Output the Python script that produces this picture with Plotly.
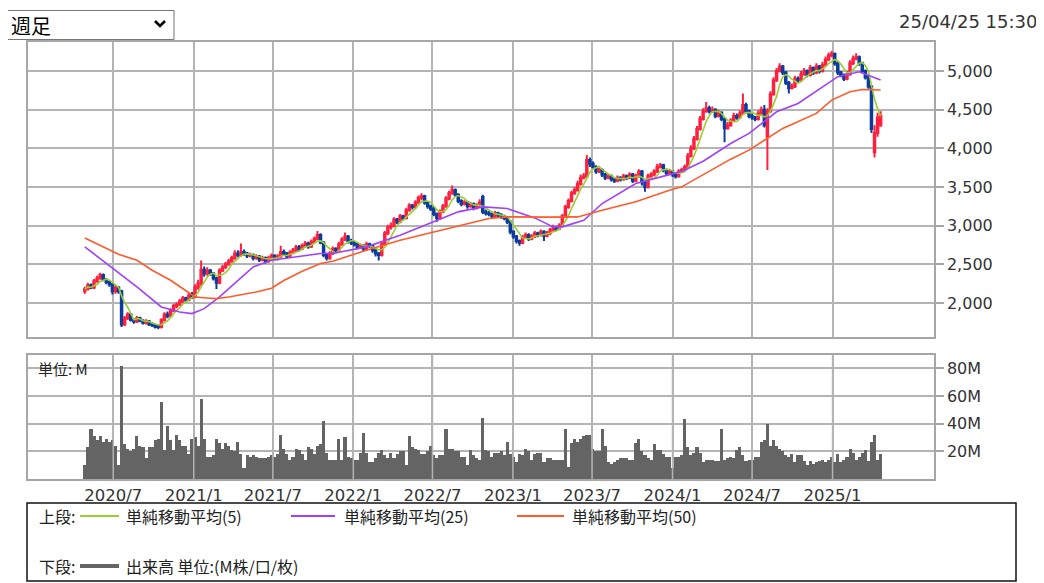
import plotly.graph_objects as go
import pandas as pd

# The page body has an 8px default margin, so the figure is made 8px smaller
# and every reference pixel position is shifted by that offset.
PAGE_W, PAGE_H = 1044, 583
OFF = 8
W, H = PAGE_W - OFF, PAGE_H - OFF

# ---------------- data ----------------
FIRST_WEEK = "2020-04-27"
N_WEEKS = 261
week_dates = pd.date_range(FIRST_WEEK, periods=N_WEEKS, freq="7D")

opens = [
    2150, 2180, 2230, 2200, 2280, 2320, 2360, 2300, 2270, 2240,
    2150, 2200, 2150, 1720, 1800, 1850, 1780, 1760, 1800, 1770,
    1740, 1760, 1720, 1710, 1700, 1690, 1780, 1850, 1830, 1900,
    1960, 1980, 2020, 2060, 2040, 2100, 2080, 2200, 2250, 2430,
    2380, 2420, 2380, 2320, 2260, 2420, 2460, 2500, 2540, 2580,
    2640, 2620, 2660, 2640, 2610, 2620, 2580, 2600, 2560, 2580,
    2540, 2580, 2610, 2570, 2600, 2660, 2640, 2600, 2650, 2680,
    2720, 2700, 2740, 2770, 2730, 2790, 2830, 2880, 2780, 2620,
    2580, 2640, 2700, 2680, 2760, 2820, 2860, 2800, 2780, 2760,
    2720, 2740, 2700, 2760, 2740, 2680, 2640, 2620, 2760, 2900,
    2980, 3000, 3080, 3050, 3120, 3100, 3200, 3260, 3240, 3300,
    3360, 3380, 3300, 3250, 3220, 3150, 3100, 3180, 3250, 3350,
    3420, 3460, 3400, 3320, 3280, 3300, 3250, 3280, 3230, 3260,
    3370, 3180, 3160, 3150, 3120, 3160, 3140, 3120, 3100, 3050,
    2920, 2860, 2800, 2780, 2850, 2880, 2830, 2860, 2900, 2880,
    2920, 2870, 2900, 2940, 2980, 2960, 3000, 3120, 3240, 3320,
    3420, 3460, 3540, 3620, 3640, 3850, 3800, 3760, 3700, 3720,
    3660, 3620, 3640, 3600, 3580, 3620, 3600, 3640, 3620, 3660,
    3580, 3640, 3700, 3560, 3500, 3640, 3660, 3700, 3760, 3780,
    3720, 3680, 3700, 3660, 3640, 3700, 3720, 3760, 3900, 4000,
    4120, 4250, 4380, 4480, 4520, 4480, 4500, 4420, 4460, 4380,
    4260, 4300, 4360, 4420, 4400, 4450, 4560, 4480, 4420, 4400,
    4380, 4450, 4500, 4150, 4480, 4700, 4880, 5000, 5060, 4980,
    4850, 4780, 4800, 4900, 4880, 4960, 5000, 4950, 5040, 4980,
    5060, 5000, 5080, 5150, 5200, 5220, 5100, 4980, 4950, 4900,
    4960, 5100, 5160, 5180, 5100, 5000, 4920, 4800, 3950, 4200,
    4300,
]
highs = [
    2210, 2260, 2250, 2310, 2350, 2390, 2380, 2320, 2290, 2260,
    2230, 2220, 2170, 1830, 1880, 1870, 1800, 1830, 1820, 1790,
    1790, 1780, 1750, 1730, 1720, 1800, 1880, 1890, 1930, 1990,
    2010, 2050, 2090, 2080, 2130, 2140, 2240, 2300, 2550, 2470,
    2460, 2440, 2400, 2340, 2450, 2490, 2530, 2570, 2610, 2680,
    2680, 2770, 2690, 2660, 2650, 2640, 2630, 2620, 2610, 2600,
    2610, 2640, 2630, 2630, 2740, 2690, 2660, 2680, 2710, 2750,
    2750, 2770, 2800, 2790, 2820, 2860, 2930, 2900, 2800, 2650,
    2670, 2730, 2720, 2790, 2850, 2910, 2880, 2830, 2800, 2780,
    2770, 2760, 2790, 2780, 2760, 2700, 2660, 2790, 2930, 3010,
    3040, 3110, 3100, 3150, 3140, 3230, 3290, 3280, 3330, 3390,
    3420, 3400, 3320, 3270, 3240, 3170, 3210, 3280, 3380, 3450,
    3520, 3480, 3420, 3340, 3330, 3320, 3310, 3300, 3290, 3340,
    3400, 3210, 3190, 3170, 3190, 3180, 3160, 3140, 3120, 3070,
    2940, 2880, 2820, 2880, 2910, 2900, 2890, 2930, 2920, 2950,
    2940, 2930, 2970, 3010, 3000, 3030, 3150, 3270, 3350, 3450,
    3500, 3580, 3660, 3680, 3915, 3880, 3830, 3780, 3750, 3740,
    3680, 3670, 3660, 3620, 3650, 3640, 3670, 3660, 3690, 3680,
    3670, 3730, 3720, 3580, 3670, 3690, 3730, 3800, 3810, 3800,
    3740, 3730, 3720, 3680, 3730, 3750, 3790, 3940, 4040, 4160,
    4290, 4420, 4520, 4600, 4550, 4540, 4520, 4500, 4480, 4400,
    4340, 4390, 4460, 4450, 4490, 4710, 4590, 4500, 4450, 4420,
    4490, 4540, 4560, 4520, 4740, 4920, 5040, 5100, 5080, 5000,
    4870, 4840, 4940, 4930, 5000, 5040, 5020, 5080, 5060, 5100,
    5080, 5120, 5190, 5240, 5260, 5240, 5120, 5000, 4970, 5000,
    5140, 5200, 5230, 5200, 5120, 5020, 4940, 4820, 4300, 4460,
    4480,
]
lows = [
    2120, 2160, 2180, 2180, 2260, 2300, 2280, 2240, 2210, 2110,
    2120, 2120, 1690, 1700, 1780, 1760, 1730, 1740, 1750, 1720,
    1720, 1700, 1690, 1670, 1660, 1670, 1760, 1800, 1810, 1880,
    1930, 1960, 2000, 2010, 2020, 2050, 2060, 2170, 2220, 2340,
    2350, 2350, 2290, 2180, 2240, 2400, 2440, 2480, 2520, 2560,
    2590, 2600, 2610, 2580, 2590, 2550, 2560, 2530, 2540, 2510,
    2520, 2560, 2550, 2550, 2580, 2610, 2570, 2580, 2630, 2660,
    2670, 2680, 2720, 2700, 2710, 2770, 2810, 2760, 2590, 2550,
    2560, 2620, 2650, 2660, 2740, 2800, 2770, 2750, 2730, 2690,
    2700, 2670, 2680, 2710, 2650, 2600, 2550, 2600, 2740, 2880,
    2950, 2980, 3020, 3030, 3070, 3080, 3180, 3210, 3220, 3280,
    3330, 3270, 3220, 3190, 3120, 3050, 3080, 3160, 3230, 3330,
    3400, 3370, 3290, 3250, 3260, 3220, 3230, 3200, 3210, 3240,
    3150, 3130, 3120, 3090, 3100, 3110, 3090, 3070, 3020, 2890,
    2830, 2770, 2740, 2760, 2830, 2800, 2810, 2840, 2850, 2860,
    2800, 2850, 2880, 2920, 2930, 2940, 2980, 3100, 3220, 3300,
    3400, 3440, 3520, 3600, 3620, 3760, 3730, 3670, 3680, 3630,
    3590, 3600, 3570, 3550, 3560, 3570, 3580, 3590, 3600, 3550,
    3560, 3620, 3520, 3440, 3480, 3620, 3640, 3680, 3740, 3690,
    3650, 3660, 3630, 3610, 3620, 3680, 3700, 3740, 3880, 3980,
    4100, 4230, 4360, 4460, 4450, 4460, 4390, 4400, 4350, 4080,
    4240, 4280, 4340, 4370, 4380, 4430, 4450, 4390, 4370, 4350,
    4360, 4430, 4270, 3720, 4460, 4680, 4860, 4980, 4950, 4820,
    4710, 4760, 4780, 4850, 4860, 4940, 4920, 4930, 4950, 4960,
    4970, 4980, 5060, 5130, 5180, 5070, 4950, 4920, 4870, 4880,
    4940, 5080, 5140, 5070, 4970, 4890, 4770, 4200, 3880, 4150,
    4280,
]
closes = [
    2180, 2230, 2200, 2280, 2320, 2360, 2300, 2270, 2240, 2150,
    2200, 2150, 1720, 1800, 1850, 1780, 1760, 1800, 1770, 1740,
    1760, 1720, 1710, 1690, 1690, 1780, 1850, 1830, 1900, 1960,
    1980, 2020, 2060, 2040, 2100, 2080, 2200, 2250, 2430, 2380,
    2420, 2380, 2320, 2260, 2420, 2460, 2500, 2540, 2580, 2640,
    2620, 2660, 2640, 2610, 2620, 2580, 2600, 2560, 2580, 2540,
    2580, 2610, 2570, 2600, 2660, 2640, 2600, 2650, 2680, 2720,
    2700, 2740, 2770, 2730, 2790, 2830, 2880, 2780, 2620, 2580,
    2640, 2700, 2680, 2760, 2820, 2860, 2800, 2780, 2760, 2720,
    2740, 2700, 2760, 2740, 2680, 2640, 2620, 2760, 2900, 2980,
    3000, 3080, 3050, 3120, 3100, 3200, 3260, 3240, 3300, 3360,
    3380, 3300, 3250, 3220, 3150, 3100, 3180, 3250, 3350, 3420,
    3460, 3400, 3320, 3280, 3300, 3250, 3280, 3230, 3260, 3300,
    3180, 3160, 3150, 3120, 3160, 3140, 3120, 3100, 3050, 2920,
    2860, 2800, 2780, 2850, 2880, 2830, 2860, 2900, 2880, 2920,
    2870, 2900, 2940, 2980, 2960, 3000, 3120, 3240, 3320, 3420,
    3460, 3540, 3620, 3640, 3850, 3800, 3760, 3700, 3720, 3660,
    3620, 3640, 3600, 3580, 3620, 3600, 3640, 3620, 3660, 3580,
    3640, 3700, 3560, 3500, 3640, 3660, 3700, 3760, 3780, 3720,
    3680, 3700, 3660, 3640, 3700, 3720, 3760, 3900, 4000, 4120,
    4250, 4380, 4480, 4520, 4480, 4500, 4420, 4460, 4380, 4260,
    4300, 4360, 4420, 4400, 4450, 4560, 4480, 4420, 4400, 4380,
    4450, 4500, 4300, 4480, 4700, 4880, 5000, 5060, 4980, 4850,
    4780, 4800, 4900, 4880, 4960, 5000, 4950, 5040, 4980, 5060,
    5000, 5080, 5150, 5200, 5220, 5100, 4980, 4950, 4900, 4960,
    5100, 5160, 5180, 5100, 5000, 4920, 4800, 4250, 4200, 4400,
    4420,
]
volumes_m = [
    10, 23, 36, 31, 28, 31, 27, 29, 27, 28,
    24, 10, 82, 25, 22, 20, 22, 31, 24, 23,
    15, 23, 23, 28, 29, 56, 21, 38, 28, 21,
    32, 28, 24, 24, 18, 29, 30, 24, 58, 29,
    16, 16, 17, 29, 26, 22, 26, 24, 21, 20,
    27, 18, 8, 17, 16, 17, 16, 15, 15, 15,
    16, 17, 16, 18, 32, 22, 18, 14, 16, 22,
    21, 18, 14, 23, 22, 18, 24, 25, 42, 19,
    14, 14, 14, 29, 14, 30, 16, 15, 14, 14,
    19, 33, 19, 12, 12, 15, 19, 21, 17, 15,
    19, 15, 18, 20, 20, 10, 31, 23, 22, 21,
    18, 18, 20, 24, 17, 15, 17, 17, 36, 22,
    22, 20, 20, 16, 16, 10, 21, 17, 15, 14,
    44, 21, 20, 16, 19, 19, 20, 17, 27, 18,
    16, 12, 18, 17, 22, 20, 14, 18, 19, 19,
    12, 15, 15, 14, 14, 14, 14, 36, 9, 26,
    29, 27, 29, 31, 32, 32, 22, 20, 20, 36,
    24, 12, 11, 12, 14, 15, 15, 15, 14, 14,
    26, 29, 20, 17, 15, 14, 25, 21, 21, 18,
    16, 16, 8, 16, 16, 17, 43, 23, 17, 19,
    23, 19, 12, 14, 14, 14, 13, 13, 36, 14,
    15, 16, 15, 21, 23, 17, 13, 14, 14, 16,
    16, 27, 28, 40, 24, 28, 24, 22, 20, 17,
    16, 18, 12, 17, 17, 13, 10, 13, 11, 12,
    13, 14, 12, 14, 16, 12, 18, 12, 14, 16,
    22, 19, 14, 16, 19, 21, 13, 27, 32, 14,
    18,
]

# moving averages of 25 / 50 weeks at these week indices
ma25_weeks = [0, 6, 11, 17, 25, 31, 35, 39, 44, 50, 55, 61, 69, 77, 81, 92, 103,
              114, 122, 130, 138, 147, 153, 156, 163, 169, 180, 191, 195, 202, 206,
              211, 217, 226, 233, 241, 246, 253, 257, 260]
ma25_values = [2725, 2540, 2390, 2207, 1948, 1883, 1862, 1926, 2077, 2293, 2466,
               2552, 2595, 2639, 2639, 2725, 2876, 3049, 3178, 3243, 3221, 3100,
               2984, 2984, 3070, 3286, 3545, 3660, 3700, 3833, 3934, 4063, 4193,
               4473, 4581, 4797, 4927, 4991, 4927, 4883]
ma50_weeks = [0, 6, 11, 17, 22, 28, 32, 36, 40, 43, 47, 52, 56, 61, 65, 71, 77,
              81, 92, 103, 114, 125, 132, 138, 147, 152, 161, 169, 180, 191, 195,
              202, 206, 211, 217, 228, 239, 244, 250, 254, 260]
ma50_values = [2841, 2720, 2630, 2552, 2423, 2293, 2185, 2077, 2064, 2056, 2077,
               2112, 2142, 2190, 2290, 2410, 2510, 2540, 2682, 2811, 2919, 3019,
               3092, 3113, 3105, 3110, 3113, 3200, 3308, 3459, 3502, 3660, 3740,
               3860, 3977, 4258, 4452, 4624, 4732, 4762, 4754]

x_tick_dates = ["2020-07-01", "2021-01-01", "2021-07-01", "2022-01-01", "2022-07-01",
                "2023-01-01", "2023-07-01", "2024-01-01", "2024-07-01", "2025-01-01"]
x_tick_labels = ["2020/7", "2021/1", "2021/7", "2022/1", "2022/7",
                 "2023/1", "2023/7", "2024/1", "2024/7", "2025/1"]
price_ticks = [2000, 2500, 3000, 3500, 4000, 4500, 5000]
price_tick_labels = ["2,000", "2,500", "3,000", "3,500", "4,000", "4,500", "5,000"]
vol_ticks = [20, 40, 60, 80]
vol_tick_labels = ["20M", "40M", "60M", "80M"]

ma5_values = pd.Series(closes).rolling(5, min_periods=1).mean()

# ---------------- styling ----------------
def fx(p):
    """reference page pixel x -> paper fraction"""
    return (p - OFF) / W


def fy(p):
    """reference page pixel y -> paper fraction"""
    return 1 - (p - OFF) / H


X_RANGE = ["2019-12-19", "2025-08-21"]
GRID = "#b4b4b4"
FRAME = "#a6a6a6"
UP = "#ff1f3f"
DOWN = "#0b3b9c"
C_MA5 = "#9acd32"
C_MA25 = "#a040ff"
C_MA50 = "#ff5a2a"
C_VOL = "#646464"
LABEL_FONT = dict(family="DejaVu Sans", size=16, color="#333333")
JP = "Noto Sans CJK JP"
TXT = "#222222"

fig = go.Figure()
fig.add_trace(go.Candlestick(
    x=week_dates, open=opens, high=highs, low=lows, close=closes,
    increasing=dict(line=dict(color=UP, width=2), fillcolor=UP),
    decreasing=dict(line=dict(color=DOWN, width=2), fillcolor=DOWN),
    whiskerwidth=0, xaxis="x", yaxis="y", hoverinfo="skip", name="price"))
fig.add_trace(go.Scatter(x=week_dates, y=ma5_values, mode="lines",
                         line=dict(color=C_MA5, width=1.6), xaxis="x", yaxis="y"))
fig.add_trace(go.Scatter(x=week_dates[ma25_weeks], y=ma25_values, mode="lines",
                         line=dict(color=C_MA25, width=1.6), xaxis="x", yaxis="y"))
fig.add_trace(go.Scatter(x=week_dates[ma50_weeks], y=ma50_values, mode="lines",
                         line=dict(color=C_MA50, width=1.6), xaxis="x", yaxis="y"))
fig.add_trace(go.Bar(x=week_dates, y=volumes_m, xaxis="x2", yaxis="y2",
                     width=7 * 86400000, marker=dict(color=C_VOL, line=dict(width=0))))

x_dom = [fx(28), fx(934)]
axis_common = dict(showgrid=True, gridcolor=GRID, gridwidth=1.5, showline=True,
                   mirror=True, linecolor=FRAME, linewidth=1.5, zeroline=False,
                   fixedrange=True)
fig.update_layout(
    width=W, height=H, margin=dict(l=0, r=0, t=0, b=0),
    paper_bgcolor="white", plot_bgcolor="white", showlegend=False, bargap=0,
    xaxis=dict(domain=x_dom, anchor="y", type="date", range=X_RANGE,
               tickmode="array", tickvals=x_tick_dates, showticklabels=False,
               ticks="", rangeslider=dict(visible=False), **axis_common),
    yaxis=dict(domain=[fy(337), fy(42)], anchor="x", side="right",
               range=[1559, 5376], tickmode="array", tickvals=price_ticks,
               ticktext=price_tick_labels, ticks="outside", ticklen=8,
               tickcolor=FRAME, tickwidth=1.5, tickfont=LABEL_FONT, **axis_common),
    xaxis2=dict(domain=x_dom, anchor="y2", type="date", range=X_RANGE,
                tickmode="array", tickvals=x_tick_dates, ticktext=x_tick_labels,
                ticks="", tickfont=dict(family="DejaVu Sans", size=16.5, color="#333333"),
                **axis_common),
    yaxis2=dict(domain=[fy(479), fy(355)], anchor="x2", side="right",
                range=[0, 89.6], tickmode="array", tickvals=vol_ticks,
                ticktext=vol_tick_labels, ticks="outside", ticklen=8,
                tickcolor=FRAME, tickwidth=1.5, tickfont=LABEL_FONT, **axis_common),
)

shapes = []
# vertical grid lines drawn over the volume bars
for d in x_tick_dates:
    shapes.append(dict(type="line", xref="x2", yref="y2 domain", x0=d, x1=d, y0=0, y1=1,
                       line=dict(color=GRID, width=1.5), layer="above"))
# dropdown box + chevron
shapes.append(dict(type="rect", xref="paper", yref="paper", x0=fx(4.5), x1=fx(174),
                   y0=fy(39.5), y1=fy(10.5), line=dict(color="#767676", width=1),
                   fillcolor="white", layer="above"))
shapes.append(dict(type="path", xref="paper", yref="paper",
                   path=f"M {fx(155)} {fy(21)} L {fx(160)} {fy(26)} L {fx(165)} {fy(21)}",
                   line=dict(color="black", width=2.6), layer="above"))
# legend box
shapes.append(dict(type="rect", xref="paper", yref="paper", x0=fx(27), x1=fx(1016),
                   y0=fy(581), y1=fy(503), line=dict(color="#111111", width=1.5),
                   layer="above"))
legend_lines = [(80, 119, 516, C_MA5, 2), (291, 335, 516, C_MA25, 2),
                (517, 564, 516, C_MA50, 2), (80, 119, 566, C_VOL, 4)]
for x0, x1, yy, col, wd in legend_lines:
    shapes.append(dict(type="line", xref="paper", yref="paper", x0=fx(x0), x1=fx(x1),
                       y0=fy(yy), y1=fy(yy), line=dict(color=col, width=wd), layer="above"))
fig.update_layout(shapes=shapes)

annotations = [
    dict(text="25/04/25 15:30", x=fx(1039), y=fy(22), xanchor="right", yanchor="middle",
         font=dict(family="DejaVu Sans", size=18, color="#333333")),
    dict(text="週足", x=fx(9), y=fy(25), xanchor="left", yanchor="middle",
         font=dict(family=JP, size=20, color="#000000")),
    dict(text="単位: M", x=fx(36), y=fy(368), xanchor="left", yanchor="middle",
         font=dict(family=JP, size=15, color=TXT)),
    dict(text="上段:", x=fx(37), y=fy(516), xanchor="left", yanchor="middle",
         font=dict(family=JP, size=16, color=TXT)),
    dict(text="単純移動平均(5)", x=fx(124), y=fy(516), xanchor="left", yanchor="middle",
         font=dict(family=JP, size=16, color=TXT)),
    dict(text="単純移動平均(25)", x=fx(342), y=fy(516), xanchor="left", yanchor="middle",
         font=dict(family=JP, size=16, color=TXT)),
    dict(text="単純移動平均(50)", x=fx(570), y=fy(516), xanchor="left", yanchor="middle",
         font=dict(family=JP, size=16, color=TXT)),
    dict(text="下段:", x=fx(37), y=fy(566), xanchor="left", yanchor="middle",
         font=dict(family=JP, size=16, color=TXT)),
    dict(text="出来高 単位:(M株/口/枚)", x=fx(124), y=fy(566), xanchor="left",
         yanchor="middle", font=dict(family=JP, size=16, color=TXT)),
]
for a in annotations:
    a.update(xref="paper", yref="paper", showarrow=False)
fig.update_layout(annotations=annotations)

fig.write_html("out.html")
